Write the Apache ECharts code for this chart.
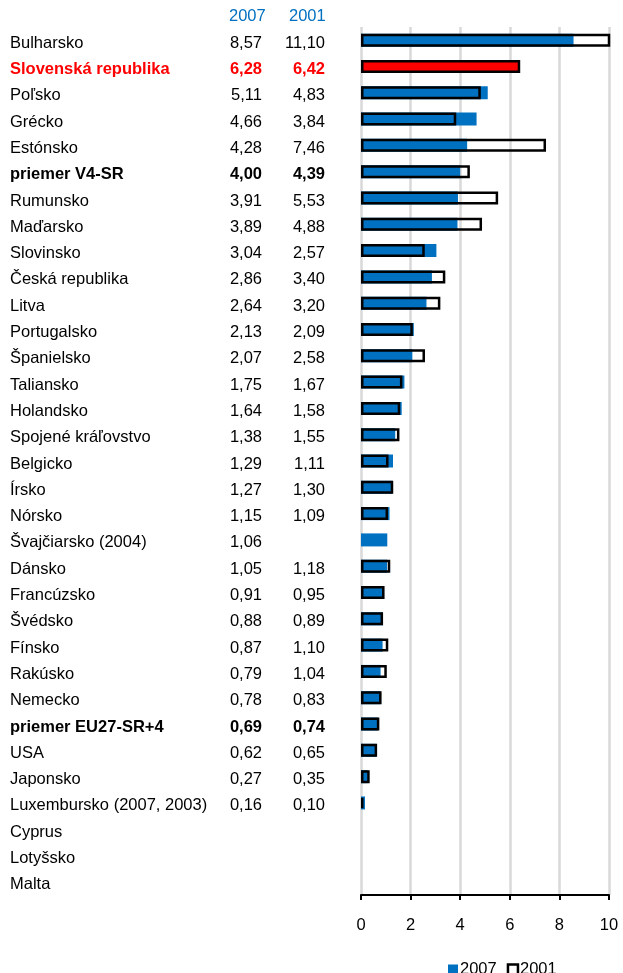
<!DOCTYPE html>
<html>
<head>
<meta charset="utf-8">
<script src="https://cdn.jsdelivr.net/npm/echarts@6/dist/echarts.min.js"></script>
<style>
  html, body { margin: 0; padding: 0; background: #fff; }
  #chart { width: 623px; height: 973px; }
</style>
</head>
<body>
<div id="chart"></div>
<script>
var countries = ['Bulharsko', 'Slovenská republika', 'Poľsko', 'Grécko', 'Estónsko',
    'priemer V4-SR', 'Rumunsko', 'Maďarsko', 'Slovinsko', 'Česká republika', 'Litva',
    'Portugalsko', 'Španielsko', 'Taliansko', 'Holandsko', 'Spojené kráľovstvo',
    'Belgicko', 'Írsko', 'Nórsko', 'Švajčiarsko (2004)', 'Dánsko', 'Francúzsko',
    'Švédsko', 'Fínsko', 'Rakúsko', 'Nemecko', 'priemer EU27-SR+4', 'USA', 'Japonsko',
    'Luxembursko (2007, 2003)', 'Cyprus', 'Lotyšsko', 'Malta'];
var values2007 = [8.57, 6.28, 5.11, 4.66, 4.28, 4.00, 3.91, 3.89, 3.04, 2.86, 2.64,
    2.13, 2.07, 1.75, 1.64, 1.38, 1.29, 1.27, 1.15, 1.06, 1.05, 0.91, 0.88, 0.87,
    0.79, 0.78, 0.69, 0.62, 0.27, 0.16, null, null, null];
var values2001 = [11.10, 6.42, 4.83, 3.84, 7.46, 4.39, 5.53, 4.88, 2.57, 3.40, 3.20,
    2.09, 2.58, 1.67, 1.58, 1.55, 1.11, 1.30, 1.09, null, 1.18, 0.95, 0.89, 1.10,
    1.04, 0.83, 0.74, 0.65, 0.35, 0.10, null, null, null];
var xTicks = [0, 2, 4, 6, 8, 10];

var FONT = "'Liberation Sans', Arial, sans-serif";
var BLUE = '#0070C0';
var RED = '#FF0000';
var redRow = 'Slovenská republika';
var boldRows = ['priemer V4-SR', 'priemer EU27-SR+4'];

function fmt(v) {
    return v == null ? '' : v.toFixed(2).replace('.', ',');
}

function rowLabel(name, i) {
    var k = 'n';
    if (name === redRow) k = 'r';
    else if (boldRows.indexOf(name) >= 0) k = 'b';
    return '{' + k + 'Name|' + name + '}{' + k + 'A|' + fmt(values2007[i]) +
           '}{' + k + 'B|' + fmt(values2001[i]) + '}';
}

function richSet() {
    var rich = {};
    var kinds = {
        n: {color: '#000', fontWeight: 'normal'},
        b: {color: '#000', fontWeight: 'bold'},
        r: {color: RED, fontWeight: 'bold'}
    };
    Object.keys(kinds).forEach(function (k) {
        var base = {fontFamily: FONT, fontSize: 16.5, color: kinds[k].color, fontWeight: kinds[k].fontWeight};
        rich[k + 'Name'] = Object.assign({width: 203, align: 'left'}, base);
        rich[k + 'A'] = Object.assign({width: 49, align: 'right'}, base);
        rich[k + 'B'] = Object.assign({width: 63, align: 'right'}, base);
    });
    return rich;
}

var chart = echarts.init(document.getElementById('chart'));
chart.setOption({
    backgroundColor: '#fff',
    animation: false,
    title: [
        {text: '2007', left: 229, top: 8, padding: 0, textStyle: {color: BLUE, fontSize: 16.5, fontWeight: 'normal', fontFamily: FONT}},
        {text: '2001', left: 289, top: 8, padding: 0, textStyle: {color: BLUE, fontSize: 16.5, fontWeight: 'normal', fontFamily: FONT}}
    ],
    legend: {
        left: 443,
        top: 956,
        itemWidth: 10,
        itemHeight: 10,
        itemGap: 10,
        textStyle: {fontFamily: FONT, fontSize: 16.5, color: '#000', padding: [0, 0, 0, -3]},
        data: [
            {name: '2007', icon: 'rect', itemStyle: {color: BLUE, borderWidth: 0}},
            {name: '2001', icon: 'rect', itemStyle: {color: '#fff', borderColor: '#000', borderWidth: 2.5}}
        ]
    },
    grid: {left: 361, right: 14, top: 27, height: 868, containLabel: false},
    xAxis: {
        type: 'value',
        min: xTicks[0],
        max: xTicks[xTicks.length - 1],
        interval: 2,
        axisLine: {show: true, lineStyle: {color: '#000', width: 2}},
        axisTick: {show: true, length: 5, lineStyle: {color: '#000', width: 2}},
        axisLabel: {fontFamily: FONT, fontSize: 16.5, color: '#000', margin: 22},
        splitLine: {show: true, lineStyle: {color: '#d9d9d9', width: 2.5}}
    },
    yAxis: {
        type: 'category',
        inverse: true,
        data: countries,
        axisLine: {show: false},
        axisTick: {show: false},
        splitLine: {show: false},
        axisLabel: {
            margin: 36,
            interval: 0,
            padding: [6, 0, 0, 0],
            formatter: function (value, index) { return rowLabel(value, index); },
            rich: richSet()
        }
    },
    series: [
        {
            name: '2007',
            type: 'bar',
            barWidth: 13,
            barGap: '-100%',
            itemStyle: {color: BLUE},
            data: values2007.map(function (v, i) {
                return countries[i] === redRow ? {value: v, itemStyle: {color: RED}} : v;
            })
        },
        {
            name: '2001',
            type: 'bar',
            barWidth: 13,
            barGap: '-100%',
            z: 3,
            itemStyle: {color: 'rgba(0,0,0,0)', borderColor: '#000', borderWidth: 2.5},
            data: values2001.map(function (v, i) {
                return countries[i] === redRow ? {value: v, itemStyle: {color: RED, borderColor: '#000', borderWidth: 2.5}} : v;
            })
        }
    ]
});
</script>
</body>
</html>
